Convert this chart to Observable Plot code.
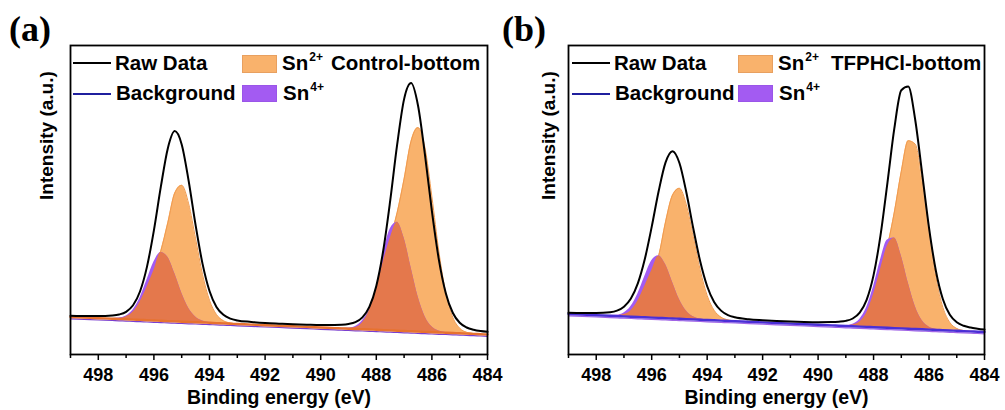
<!DOCTYPE html>
<html><head><meta charset="utf-8">
<script src="https://cdn.jsdelivr.net/npm/d3@7"></script>
<script src="https://cdn.jsdelivr.net/npm/@observablehq/plot@0.6"></script>
<style>
body{margin:0;background:#fff;font-family:"Liberation Sans",Arial,sans-serif;}
#wrap{position:relative;width:1005px;height:410px;overflow:hidden;background:#fff}
.panel{position:absolute;top:0;height:410px}
.tag{position:absolute;font-family:"Liberation Serif","Times New Roman",serif;font-weight:bold;font-size:36px;line-height:1;color:#000}
.leg{position:absolute;font-weight:bold;font-size:20.5px;line-height:20px;white-space:nowrap;color:#000}
.leg sup{font-size:12px;position:relative;top:-9px;vertical-align:0;margin-left:1px}
.sw{position:absolute}
</style></head>
<body><div id="wrap"></div>
<script>
// Binding energy grid (eV)
const energy = [499, 498.5, 498, 497.5, 497.25, 497, 496.75, 496.5, 496.25, 496, 495.75, 495.5, 495.25, 495, 494.75, 494.5, 494.25, 494, 493.75, 493.5, 493.25, 493, 492.5, 492, 491.5, 491, 490.5, 490, 489.5, 489.25, 489, 488.75, 488.5, 488.25, 488, 487.75, 487.5, 487.25, 487, 486.75, 486.5, 486.25, 486, 485.75, 485.5, 485.25, 485, 484.75, 484.5, 484.25, 484];

// (a) Control-bottom
const bgA = [37.5, 36.9, 36.3, 35.8, 35.5, 35.2, 34.9, 34.6, 34.3, 34.0, 33.7, 33.4, 33.1, 32.8, 32.5, 32.3, 32.0, 31.7, 31.4, 31.1, 30.8, 30.5, 29.9, 29.3, 28.8, 28.2, 27.6, 27.0, 26.4, 26.1, 25.8, 25.5, 25.3, 25.0, 24.7, 24.4, 24.1, 23.8, 23.5, 23.2, 22.9, 22.6, 22.3, 22.0, 21.8, 21.5, 21.2, 20.9, 20.6, 20.3, 20.0];
const rawA = [38.7, 38.5, 38.4, 39.0, 40.0, 42.7, 49.2, 63.0, 87.6, 124.2, 167.8, 206.1, 223.4, 210.1, 173.6, 129.3, 90.6, 63.5, 47.6, 39.7, 35.9, 34.1, 32.6, 31.5, 30.8, 30.2, 29.8, 29.5, 29.6, 29.8, 30.5, 32.3, 37.1, 47.6, 68.6, 104.0, 153.8, 209.8, 255.4, 271.4, 249.0, 199.8, 143.3, 94.9, 61.3, 41.7, 31.7, 27.0, 24.8, 23.5, 22.7];
const sn2A = [0, 0, 0, 0.1, 0.6, 2.5, 7.5, 18, 33, 50, 70, 98.3, 128.3, 136.4, 118.2, 83.4, 47.9, 22.5, 8.6, 2.7, 0.7, 0.1, 0, 0, 0, 0, 0, 0, 0, 0, 0.3, 1.6, 6.5, 19, 41, 68, 92, 118, 152, 190, 204, 184.1, 135.4, 81.1, 39.5, 15.7, 5.1, 1.3, 0.3, 0, 0];
const sn4A = [0, 0, 0, 0.2, 1.0, 3.4, 9.7, 22.0, 40.1, 58.5, 68.3, 63.9, 47.9, 28.8, 13.8, 5.3, 1.6, 0.4, 0.1, 0, 0, 0, 0, 0, 0, 0, 0, 0, 0, 0.1, 0.6, 2.6, 8.5, 20, 42, 76.1, 101.5, 108.5, 92.9, 63.7, 35.0, 15.4, 5.4, 1.5, 0.3, 0, 0, 0, 0, 0, 0];

// (b) TFPHCl-bottom
const bgB = [40.5, 39.9, 39.3, 38.7, 38.4, 38.1, 37.8, 37.5, 37.2, 36.9, 36.6, 36.3, 36.0, 35.7, 35.4, 35.1, 34.8, 34.5, 34.2, 33.9, 33.6, 33.3, 32.7, 32.1, 31.5, 30.9, 30.3, 29.7, 29.1, 28.8, 28.5, 28.2, 27.9, 27.6, 27.3, 27.0, 26.7, 26.4, 26.1, 25.8, 25.5, 25.2, 24.9, 24.6, 24.3, 24.0, 23.7, 23.4, 23.1, 22.8, 22.5];
const rawB = [41.7, 41.5, 41.5, 42.3, 43.9, 47.8, 56.0, 71.1, 95.2, 127.6, 163.2, 192.1, 203.3, 191.5, 162.0, 126.0, 93.0, 68.3, 52.6, 43.9, 39.4, 37.2, 35.3, 34.3, 33.5, 32.9, 32.5, 32.3, 32.4, 32.8, 33.6, 36.0, 41.9, 54.7, 79.4, 119.1, 171.7, 226.3, 264.3, 267.9, 235.0, 181.4, 126.7, 83.3, 55.2, 39.7, 32.2, 28.7, 26.9, 25.8, 24.9];
const sn2B = [0, 0, 0, 0.1, 0.4, 1.8, 6, 16, 31, 47, 62, 96.3, 123.3, 130.5, 114.2, 82.7, 49.5, 24.5, 10.0, 3.4, 1.0, 0.2, 0, 0, 0, 0, 0, 0, 0, 0, 0.2, 1.2, 4.5, 14, 33, 58, 82, 116, 157, 188, 185.0, 148.8, 97.5, 52.1, 22.7, 8.0, 2.3, 0.5, 0.1, 0, 0];
const sn4B = [0, 0, 0, 0.2, 1.0, 3.5, 10.2, 23.0, 40.7, 56.8, 62.2, 53.6, 36.3, 19.3, 8.1, 2.7, 0.7, 0.1, 0, 0, 0, 0, 0, 0, 0, 0, 0, 0, 0, 0.1, 0.5, 2.1, 7.2, 19.3, 40.7, 67.5, 87.9, 90.0, 72.5, 45.9, 22.8, 8.9, 2.7, 0.7, 0.15, 0, 0, 0, 0, 0, 0];

const majorTicks = [498, 496, 494, 492, 490, 488, 486, 484];
const minorTicks = [499, 497, 495, 493, 491, 489, 487, 485];
const xLabel = "Binding energy (eV)";
const yLabel = "Intensity (a.u.)";
const legendLabels = ["Raw Data", "Background", "Sn", "Sn"];
const legendSup = ["2+", "4+"];

const C = {sn2: "#F9B26C", sn2Edge: "#F09A4E", sn4: "#A35BF2", ov: "#E4784C", raw: "#000", legBg: "#1f1f9e"};

const wrap = document.getElementById("wrap");

function makePanel(cfg) {
  const rows = energy.map((E, i) => ({
    E,
    bg: cfg.bg[i],
    raw: cfg.raw[i],
    s2: cfg.bg[i] + cfg.sn2[i],
    s4: cfg.bg[i] + cfg.sn4[i],
    ov: cfg.bg[i] + Math.min(cfg.sn2[i], cfg.sn4[i])
  }));
  const curve = "monotone-x";
  const chart = Plot.plot({
    width: cfg.width, height: 410,
    marginLeft: cfg.ml, marginRight: cfg.mr, marginTop: 45, marginBottom: 56,
    x: {domain: [499, 484], label: null},
    y: {domain: [0, 309], axis: null, label: null},
    style: {fontFamily: "Liberation Sans, Arial, sans-serif", fontSize: "18px", fontWeight: "bold", color: "#000", background: "transparent", overflow: "visible"},
    marks: [
      Plot.areaY(rows, {x: "E", y1: "bg", y2: "s2", fill: C.sn2, curve}),
      Plot.lineY(rows, {x: "E", y: "s2", stroke: C.sn2Edge, strokeWidth: 1, curve}),
      Plot.areaY(rows, {x: "E", y1: "bg", y2: "s4", fill: C.sn4, curve}),
      Plot.areaY(rows, {x: "E", y1: "bg", y2: "ov", fill: C.ov, curve}),
      Plot.lineY(rows, {x: "E", y: "bg", stroke: cfg.bgUnder, strokeWidth: 1.2, dy: 1.8, curve}),
      Plot.lineY(rows, {x: "E", y: "bg", stroke: cfg.bgColor, strokeWidth: 2.4, curve}),
      Plot.lineY(rows, {x: "E", y: "raw", stroke: C.raw, strokeWidth: 2, curve}),
      Plot.axisX({ticks: minorTicks, tickSize: 4, strokeWidth: 1.5, tickFormat: () => "", label: null}),
      Plot.axisX({ticks: majorTicks, tickSize: 6, tickPadding: 8, strokeWidth: 1.5, tickFormat: d => String(d), label: null, fontSize: 18}),
      Plot.text([xLabel], {text: d => d, frameAnchor: "bottom", dy: 49, fontSize: 19.5, fontWeight: "bold"}),
      Plot.text([yLabel], {text: d => d, frameAnchor: "left", rotate: -90, dx: cfg.ydx, fontSize: 19, fontWeight: "bold"}),
      Plot.frame({stroke: "#000", strokeWidth: 1.8})
    ]
  });
  const div = document.createElement("div");
  div.className = "panel";
  div.style.left = cfg.left + "px";
  div.style.width = cfg.width + "px";
  div.appendChild(chart);
  wrap.appendChild(div);

  // panel tag
  const tag = document.createElement("div");
  tag.className = "tag";
  tag.style.left = cfg.tagX + "px";
  tag.style.top = "11px";
  tag.textContent = cfg.tag;
  wrap.appendChild(tag);

  // legend (HTML overlay)
  const L = cfg.leg;
  const addLine = (x, y, color) => {
    const s = document.createElement("div");
    s.className = "sw";
    s.style.cssText = `left:${x}px;top:${y - 1}px;width:38px;height:2px;background:${color}`;
    wrap.appendChild(s);
  };
  const addBox = (x, y, h, color, edge) => {
    const s = document.createElement("div");
    s.className = "sw";
    s.style.cssText = `left:${x}px;top:${y}px;width:33px;height:${h}px;background:${color};border:1px solid ${edge}`;
    wrap.appendChild(s);
  };
  const addText = (x, y, html) => {
    const t = document.createElement("div");
    t.className = "leg";
    t.style.left = x + "px";
    t.style.top = (y - 10) + "px";
    t.innerHTML = html;
    wrap.appendChild(t);
  };
  addLine(L.lineX, 63, C.raw);
  addText(L.lineX + 42, 63, legendLabels[0]);
  addLine(L.lineX, 94, C.legBg);
  addText(L.lineX + 43, 93, legendLabels[1]);
  addBox(L.boxX, 55, 16, C.sn2, "#E8A060");
  addText(L.boxX + 40, 63, legendLabels[2] + "<sup>" + legendSup[0] + "</sup>");
  addBox(L.boxX, 85, 15, C.sn4, "#9a55e8");
  addText(L.boxX + 41, 93, legendLabels[3] + "<sup>" + legendSup[1] + "</sup>");
  addText(L.titleX, 63, cfg.title);
}

makePanel({left: 0, width: 502, ml: 70, mr: 15, ydx: -24, bg: bgA, raw: rawA, sn2: sn2A, sn4: sn4A,
  bgColor: "#E7722F", bgUnder: "#7a3fcf", tag: "(a)", tagX: 9, title: "Control-bottom",
  leg: {lineX: 73, boxX: 242, titleX: 331}});
makePanel({left: 502, width: 503, ml: 66, mr: 21, ydx: -20, bg: bgB, raw: rawB, sn2: sn2B, sn4: sn4B,
  bgColor: "#4a2fd6", bgUnder: "#a064e6", tag: "(b)", tagX: 502, title: "TFPHCl-bottom",
  leg: {lineX: 572, boxX: 738, titleX: 831}});
</script>
</body></html>
